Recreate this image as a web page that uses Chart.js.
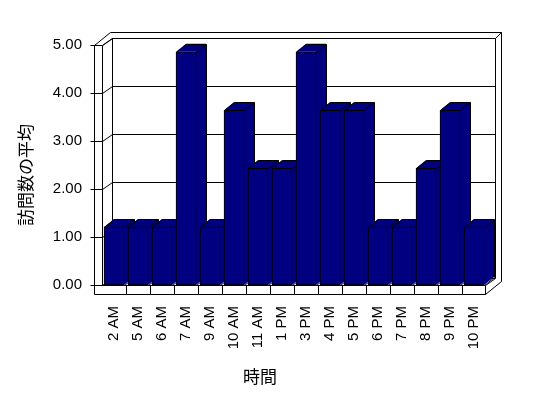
<!DOCTYPE html>
<html>
<head>
<meta charset="utf-8">
<script src="https://cdn.jsdelivr.net/npm/chart.js@4.4.1/dist/chart.umd.min.js"></script>
<style>
  body { margin: 0; background: #fff; }
  canvas { display: block; }
</style>
</head>
<body>
<canvas id="myChart" width="548" height="398"></canvas>
<script>
// Chart data
const hours = ['2 AM', '5 AM', '6 AM', '7 AM', '9 AM', '10 AM', '11 AM', '1 PM',
               '3 PM', '4 PM', '5 PM', '6 PM', '7 PM', '8 PM', '9 PM', '10 PM'];
const visitAverages = [1.21, 1.21, 1.21, 4.86, 1.21, 3.64, 2.43, 2.43,
                       4.86, 3.64, 3.64, 1.21, 1.21, 2.43, 3.64, 1.21];
const yMin = 0;
const yMax = 5;
const yStep = 1;
const yTitle = '訪問数の平均';
const xTitle = '時間';

const navy = '#000080';

// helper: draw a crisp polyline
function polyline(ctx, pts) {
    ctx.beginPath();
    pts.forEach(([px, py], i) => {
        const cx = Math.round(px) + 0.5, cy = Math.round(py) + 0.5;
        if (i === 0) ctx.moveTo(cx, cy); else ctx.lineTo(cx, cy);
    });
    ctx.stroke();
}

// Walls, floor and the depth faces of the bars (Excel style 3D look)
const box3d = {
    id: 'box3d',
    beforeDatasetsDraw(chart) {
        const ctx = chart.ctx;
        const xs = chart.scales.x, ys = chart.scales.y;
        const L = chart.chartArea.left, R = chart.chartArea.right;
        const T = ys.getPixelForValue(yMax), B = ys.getPixelForValue(yMin);
        const dx = 10, dy = -7;     // depth of the walls
        const slab = 8;             // thickness of the left wall
        const floorH = 9;           // thickness of the floor

        ctx.save();
        ctx.strokeStyle = '#000';
        ctx.lineWidth = 1;

        // left wall front face
        polyline(ctx, [[L - slab, B + floorH], [L - slab, T], [L, T], [L, B]]);
        // outer edge of left + back wall
        polyline(ctx, [[L - slab, T], [L + dx - 2, T + 2 * dy + 1], [R + dx + 5, T + 2 * dy + 1],
                       [R + dx + 5, B + dy - 4 + floorH / 2 + 2], [R - 1, B + floorH]]);
        // inner edge of back wall
        polyline(ctx, [[L, T], [L + dx, T + dy], [R + dx - 1, T + dy], [R + dx + 5, T + 2 * dy + 1]]);
        polyline(ctx, [[L + dx, T + dy], [L + dx, B + dy]]);
        polyline(ctx, [[R + dx - 1, T + dy], [R + dx - 1, B + dy]]);

        // gridlines and tick marks
        for (let v = yMin; v <= yMax; v += yStep) {
            const py = ys.getPixelForValue(v);
            polyline(ctx, [[L - slab - 4, py], [L, py], [L + dx, py + dy], [R + dx - 1, py + dy]]);
        }

        // floor
        polyline(ctx, [[L, B], [R - 1, B], [R + dx - 1, B + dy]]);
        polyline(ctx, [[L - slab, B + floorH], [R - 1, B + floorH], [R - 1, B]]);
        for (let i = 1; i < hours.length; i++) {
            const px = (xs.getPixelForValue(i - 1) + xs.getPixelForValue(i)) / 2;
            polyline(ctx, [[px, B], [px, B + floorH]]);
        }

        // side and top faces of bars
        const bdx = 10, bdy = -8;
        const meta = chart.getDatasetMeta(0);
        ctx.fillStyle = navy;
        meta.data.forEach(bar => {
            const left = bar.x - bar.width / 2, right = bar.x + bar.width / 2;
            const top = bar.y, base = bar.base;
            ctx.beginPath();
            ctx.moveTo(left, top);
            ctx.lineTo(left + bdx, top + bdy);
            ctx.lineTo(right + bdx, top + bdy);
            ctx.lineTo(right + bdx, base + bdy);
            ctx.lineTo(right, base);
            ctx.lineTo(right, top);
            ctx.closePath();
            ctx.fill();
            polyline(ctx, [[left, top], [left + bdx, top + bdy], [right + bdx, top + bdy],
                           [right + bdx, base + bdy], [right, base]]);
            polyline(ctx, [[right, top], [right + bdx, top + bdy]]);
        });
        ctx.restore();
    },
    afterDraw(chart) {
        const ctx = chart.ctx;
        ctx.save();
        ctx.fillStyle = '#000';
        ctx.font = '17px "Noto Sans CJK JP"';
        ctx.textAlign = 'center';
        ctx.textBaseline = 'middle';
        ctx.fillText(xTitle, 260, 377);
        ctx.translate(26, 175);
        ctx.rotate(-Math.PI / 2);
        ctx.fillText(yTitle, 0, 0);
        ctx.restore();
    }
};

const ctx = document.getElementById('myChart').getContext('2d');
new Chart(ctx, {
    type: 'bar',
    data: {
        labels: hours,
        datasets: [{
            data: visitAverages,
            backgroundColor: navy,
            borderColor: '#000',
            borderWidth: 1,
            borderSkipped: false,
            barThickness: 20
        }]
    },
    options: {
        responsive: false,
        animation: false,
        layout: { padding: { top: 45, right: 62, left: 0, bottom: 0 } },
        plugins: {
            legend: { display: false },
            tooltip: { enabled: false }
        },
        scales: {
            x: {
                grid: { display: false, drawTicks: false },
                border: { display: false },
                ticks: {
                    autoSkip: false,
                    maxRotation: 90,
                    minRotation: 90,
                    padding: 21,
                    color: '#000',
                    font: { family: '"Liberation Sans", Arial', size: 15 }
                },
                afterFit(scale) { scale.height = 113; }
            },
            y: {
                min: yMin,
                max: yMax,
                grid: { display: false, drawTicks: false },
                border: { display: false },
                ticks: {
                    stepSize: yStep,
                    padding: 20,
                    color: '#000',
                    font: { family: '"Liberation Sans", Arial', size: 15 },
                    callback: value => value.toFixed(2)
                },
                afterFit(scale) { scale.width = 102; }
            }
        }
    },
    plugins: [box3d]
});
</script>
</body>
</html>
